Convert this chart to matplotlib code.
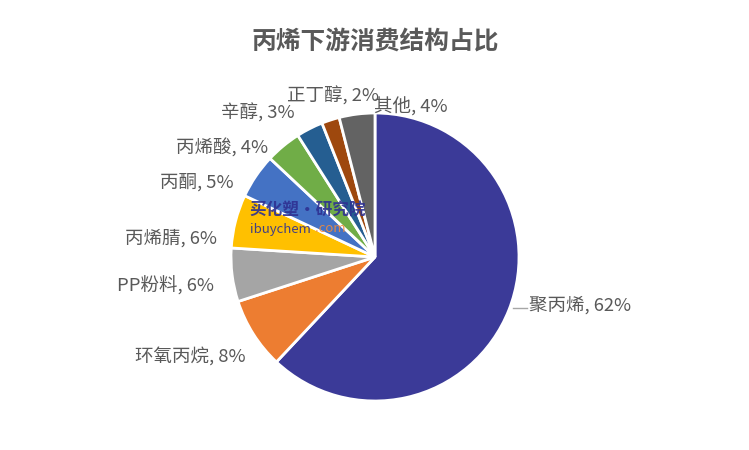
import matplotlib
matplotlib.use("Agg")
import matplotlib.pyplot as plt

plt.rcParams['font.family'] = ['Noto Sans CJK SC', 'DejaVu Sans']

categories = ['聚丙烯', '环氧丙烷', 'PP粉料', '丙烯腈', '丙酮', '丙烯酸', '辛醇', '正丁醇', '其他']
shares = [62, 8, 6, 6, 5, 4, 3, 2, 4]
colors = ['#3B3A98', '#ED7D31', '#A5A5A5', '#FFC000', '#4472C4',
          '#70AD47', '#255E91', '#9E480E', '#636363']

# label anchor points in pixels (x, y from top), left aligned
label_pos = [(529, 305), (135, 356), (117, 286), (125, 238), (160, 182),
             (176, 148), (221, 113), (287, 96), (374, 107)]

W, H = 749, 450
fig = plt.figure(figsize=(W / 100, H / 100), dpi=100)
ax = fig.add_axes([0, 0, 1, 1])

cx, cy, r = 375, H - 257, 144
ax.pie(shares, colors=colors, startangle=90, counterclock=False,
       center=(cx, cy), radius=r, frame=True,
       wedgeprops=dict(edgecolor='white', linewidth=2))
ax.set_xlim(0, W)
ax.set_ylim(0, H)
ax.set_aspect('equal')
ax.axis('off')

for cat, s, (x, y) in zip(categories, shares, label_pos):
    ax.text(x, H - y, f'{cat}, {s}%', fontsize=13.3, color='#595959',
            ha='left', va='center')

# leader line for the big slice
ax.plot([513, 527], [H - 308, H - 308], color='#A6A6A6', lw=1)

ax.text(375, H - 42, '丙烯下游消费结构占比', fontsize=17.8, fontweight='bold',
        color='#595959', ha='center', va='center')

# watermark
ax.text(249, H - 211, '买化塑·研究院', fontsize=12, fontweight='bold', style='italic',
        color='#2E3192', ha='left', va='center', alpha=0.9)
ax.text(250, H - 229, 'ibuychem', fontsize=9.5, color='#2E3192', ha='left', va='center', alpha=0.9)
ax.text(315, H - 229, '.com', fontsize=9.5, color='#F08A3C', ha='left', va='center', alpha=0.9)

fig.savefig('out.png', dpi=100, facecolor='white')
